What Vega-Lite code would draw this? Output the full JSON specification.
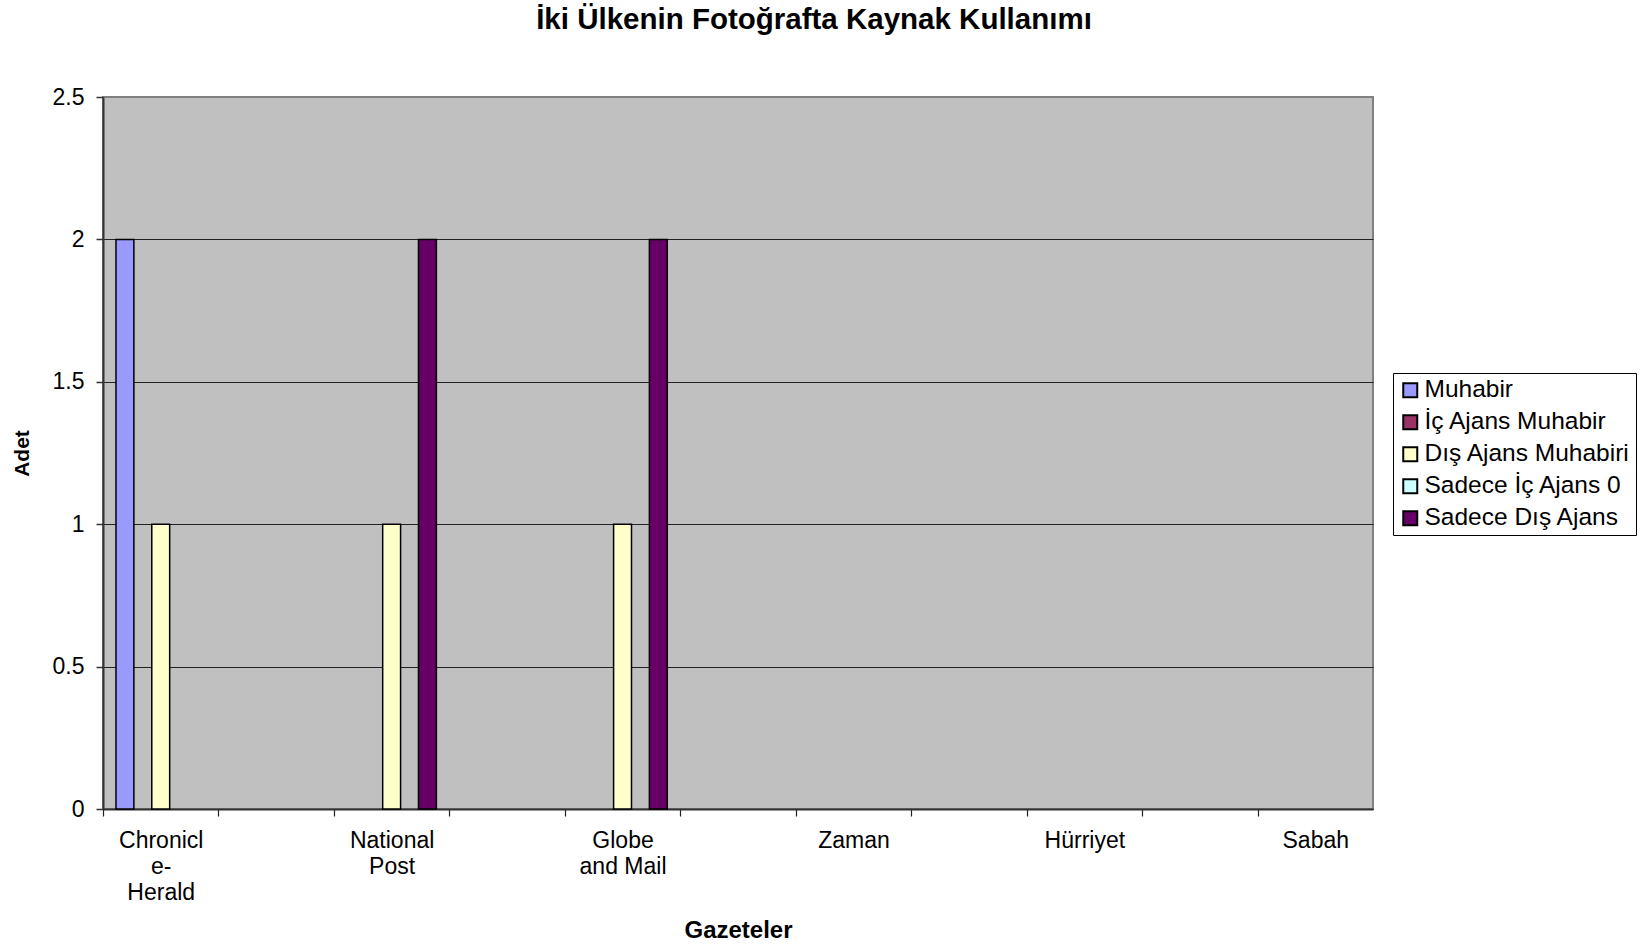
{
  "$schema": "https://vega.github.io/schema/vega-lite/v6.json",
  "autosize": {"type": "none"},
  "width": 1270,
  "height": 712,
  "padding": {"left": 103, "top": 97, "right": 267, "bottom": 137},
  "background": "white",
  "config": {
    "font": "Liberation Sans",
    "view": {"fill": "#C0C0C0", "stroke": "#808080", "strokeWidth": 2}
  },
  "title": {
    "text": "İki Ülkenin Fotoğrafta Kaynak Kullanımı",
    "font": "Liberation Sans",
    "fontSize": 29.5,
    "fontWeight": "bold",
    "color": "black",
    "anchor": "middle",
    "frame": "group",
    "dx": 76,
    "baseline": "alphabetic",
    "offset": 28
  },
  "data": {
    "values": [
      {"gazete": "Chronicle-Herald", "kaynak": "Muhabir", "adet": 2},
      {"gazete": "Chronicle-Herald", "kaynak": "İç Ajans Muhabir", "adet": 0},
      {"gazete": "Chronicle-Herald", "kaynak": "Dış Ajans Muhabiri", "adet": 1},
      {"gazete": "Chronicle-Herald", "kaynak": "Sadece İç Ajans 0", "adet": 0},
      {"gazete": "Chronicle-Herald", "kaynak": "Sadece Dış Ajans", "adet": 0},
      {"gazete": "National Post", "kaynak": "Muhabir", "adet": 0},
      {"gazete": "National Post", "kaynak": "İç Ajans Muhabir", "adet": 0},
      {"gazete": "National Post", "kaynak": "Dış Ajans Muhabiri", "adet": 1},
      {"gazete": "National Post", "kaynak": "Sadece İç Ajans 0", "adet": 0},
      {"gazete": "National Post", "kaynak": "Sadece Dış Ajans", "adet": 2},
      {"gazete": "Globe and Mail", "kaynak": "Muhabir", "adet": 0},
      {"gazete": "Globe and Mail", "kaynak": "İç Ajans Muhabir", "adet": 0},
      {"gazete": "Globe and Mail", "kaynak": "Dış Ajans Muhabiri", "adet": 1},
      {"gazete": "Globe and Mail", "kaynak": "Sadece İç Ajans 0", "adet": 0},
      {"gazete": "Globe and Mail", "kaynak": "Sadece Dış Ajans", "adet": 2},
      {"gazete": "Zaman", "kaynak": "Muhabir", "adet": 0},
      {"gazete": "Zaman", "kaynak": "İç Ajans Muhabir", "adet": 0},
      {"gazete": "Zaman", "kaynak": "Dış Ajans Muhabiri", "adet": 0},
      {"gazete": "Zaman", "kaynak": "Sadece İç Ajans 0", "adet": 0},
      {"gazete": "Zaman", "kaynak": "Sadece Dış Ajans", "adet": 0},
      {"gazete": "Hürriyet", "kaynak": "Muhabir", "adet": 0},
      {"gazete": "Hürriyet", "kaynak": "İç Ajans Muhabir", "adet": 0},
      {"gazete": "Hürriyet", "kaynak": "Dış Ajans Muhabiri", "adet": 0},
      {"gazete": "Hürriyet", "kaynak": "Sadece İç Ajans 0", "adet": 0},
      {"gazete": "Hürriyet", "kaynak": "Sadece Dış Ajans", "adet": 0},
      {"gazete": "Sabah", "kaynak": "Muhabir", "adet": 0},
      {"gazete": "Sabah", "kaynak": "İç Ajans Muhabir", "adet": 0},
      {"gazete": "Sabah", "kaynak": "Dış Ajans Muhabiri", "adet": 0},
      {"gazete": "Sabah", "kaynak": "Sadece İç Ajans 0", "adet": 0},
      {"gazete": "Sabah", "kaynak": "Sadece Dış Ajans", "adet": 0}
    ]
  },
  "mark": {"type": "bar", "stroke": "black", "opacity": 1},
  "encoding": {
    "x": {
      "field": "gazete",
      "type": "nominal",
      "sort": null,
      "scale": {
        "domain": ["Chronicle-Herald", " ", "National Post", "  ", "Globe and Mail", "   ", "Zaman", "    ", "Hürriyet", "     ", "Sabah"],
        "paddingInner": 0.225,
        "paddingOuter": 0.1125
      },
      "axis": {
        "title": "Gazeteler",
        "titleFont": "Liberation Sans",
        "titleFontSize": 24,
        "titleFontWeight": "bold",
        "titleColor": "black",
        "titleBaseline": "alphabetic",
        "titleY": 128,
        "labelAngle": 0,
        "labelFontSize": 23,
        "labelColor": "black",
        "labelPadding": 13,
        "labelLineHeight": 26,
        "labelBaseline": "top",
        "labelLimit": 0,
        "labelOverlap": false,
        "labelExpr": "datum.value == 'Chronicle-Herald' ? ['Chronicl', 'e-', 'Herald'] : datum.value == 'National Post' ? ['National', 'Post'] : datum.value == 'Globe and Mail' ? ['Globe', 'and Mail'] : datum.value",
        "tickOffset": -57.73,
        "labelOffset": 57.73,
        "tickSize": 7,
        "tickWidth": 1.2,
        "tickColor": "#222222",
        "domainColor": "#333333",
        "domainWidth": 2,
        "grid": false
      }
    },
    "xOffset": {
      "field": "kaynak",
      "type": "nominal",
      "sort": null,
      "scale": {
        "domain": ["Muhabir", "İç Ajans Muhabir", "Dış Ajans Muhabiri", "Sadece İç Ajans 0", "Sadece Dış Ajans"],
        "paddingInner": 0,
        "paddingOuter": 0
      }
    },
    "y": {
      "field": "adet",
      "type": "quantitative",
      "scale": {"domain": [0, 2.5], "nice": false},
      "axis": {
        "title": "Adet",
        "titleFont": "Liberation Sans",
        "titleFontSize": 21,
        "titleFontWeight": "bold",
        "titleColor": "black",
        "titleAngle": 270,
        "titleBaseline": "middle",
        "titleX": -81,
        "titleY": 356,
        "values": [0, 0.5, 1, 1.5, 2, 2.5],
        "format": "~g",
        "labelFontSize": 23,
        "labelColor": "black",
        "labelPadding": 12,
        "tickSize": 7,
        "tickWidth": 1.5,
        "tickColor": "#333333",
        "domainColor": "#333333",
        "domainWidth": 2,
        "grid": true,
        "gridColor": {"condition": {"test": "datum.value == 2.5", "value": "#808080"}, "value": "#222222"},
        "gridWidth": 1.2
      }
    },
    "strokeWidth": {
      "condition": {"test": "datum.adet == 0", "value": 0},
      "value": 1.5
    },
    "color": {
      "field": "kaynak",
      "type": "nominal",
      "sort": null,
      "scale": {
        "domain": ["Muhabir", "İç Ajans Muhabir", "Dış Ajans Muhabiri", "Sadece İç Ajans 0", "Sadece Dış Ajans"],
        "range": ["#9999FF", "#993366", "#FFFFCC", "#CCFFFF", "#660066"]
      },
      "legend": {
        "title": null,
        "orient": "none",
        "legendX": 1290,
        "legendY": 276,
        "padding": 5,
        "strokeColor": "black",
        "fillColor": "white",
        "symbolType": "square",
        "symbolSize": 196,
        "symbolStrokeColor": "black",
        "symbolStrokeWidth": 2,
        "symbolOpacity": 1,
        "labelFontSize": 24.5,
        "labelColor": "black",
        "labelOffset": 2,
        "labelLimit": 0,
        "rowPadding": 7
      }
    }
  }
}
